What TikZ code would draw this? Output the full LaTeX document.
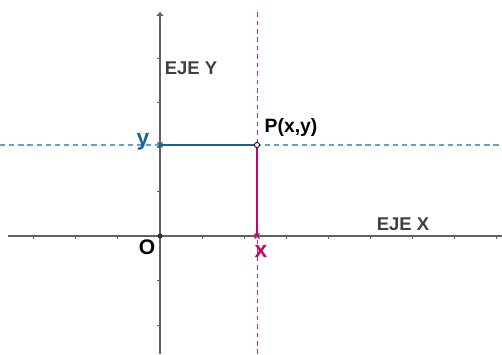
\documentclass[tikz,border=0pt]{standalone}
\usepackage{fontspec}
\setmainfont{Liberation Sans}
\usetikzlibrary{arrows.meta}
\definecolor{axisgray}{RGB}{96,96,96}
\definecolor{ptblue}{RGB}{21,101,150}
\definecolor{dashblue}{RGB}{100,160,205}
\definecolor{ptmag}{RGB}{204,0,110}
\tikzset{
  axisline/.style={line width=0.9pt, draw=axisgray},
  tickline/.style={line width=0.5pt, draw=axisgray},
  guideblue/.style={line width=0.6pt, draw=dashblue, dash pattern=on 3pt off 2.2pt},
  guidemag/.style={line width=0.55pt, draw=ptmag!85, dash pattern=on 2.6pt off 2.2pt},
  segblue/.style={line width=1.4pt, draw=ptblue},
  segmag/.style={line width=1.4pt, draw=ptmag},
  axislabel/.style={font=\bfseries\fontsize{10.5}{11}\selectfont, text=black!75},
  ptlabel/.style={font=\bfseries\fontsize{11}{12}\selectfont},
}
\begin{document}
\begin{tikzpicture}[x=0.02cm, y=0.02cm]
\useasboundingbox (0,0) rectangle (502,354);
% points
\coordinate (O) at (160,118);
\coordinate (P) at (257,209);
\coordinate (Px) at (257,118);
\coordinate (Py) at (160,209);
\coordinate (xl) at (8,118);
\coordinate (xr) at (502,118);
\coordinate (yb) at (160,0);
\coordinate (yt) at (160,342);
\coordinate (gl) at (0,209);
\coordinate (gr) at (502,209);
\coordinate (gb) at (257,0);
\coordinate (gt) at (257,344);
% guides
\draw[guideblue] (gl) -- (gr);
\draw[guidemag] (gb) -- (gt);
% axes
\draw[axisline] (xl) -- (xr);
\draw[axisline, -{To[length=2.5pt,width=4pt]}] (yb) -- (yt);
\foreach \k in {-3,...,8}
  \draw[tickline] ({160+42.1*\k},118) -- ++(0,-3);
\foreach \k in {-2,...,4}
  \draw[tickline] (160,{118+44.5*\k}) -- ++(-3,0);
% projections
\draw[segblue] (Py) -- (P);
\draw[segmag] (P) -- (Px);
\draw[ptblue, line width=0.7pt] (Py) +(-2.5,-2.5) -- +(2.5,2.5) (Py) +(-2.5,2.5) -- +(2.5,-2.5);
\draw[ptmag, line width=0.7pt] (Px) +(-2.5,-2.5) -- +(2.5,2.5) (Px) +(-2.5,2.5) -- +(2.5,-2.5);
\fill[black!80] (O) circle (2.6);
\draw[black, fill=white, line width=0.5pt] (P) circle (2.6);
% labels
\node[ptlabel, text=ptblue, font=\bfseries\fontsize{13}{14}\selectfont] (ylab) at (143,212) {y};
\node[ptlabel, text=ptmag, font=\bfseries\fontsize{13}{14}\selectfont] (xlab) at (261,103) {x};
\node[ptlabel] (plab) at (291,226) {P(x,y)};
\node[ptlabel, font=\bfseries\fontsize{12}{13}\selectfont] (olab) at (147,107) {O};
\node[axislabel] (ejey) at (191,286) {EJE Y};
\node[axislabel] (ejex) at (403,130) {EJE X};
\end{tikzpicture}
\end{document}
